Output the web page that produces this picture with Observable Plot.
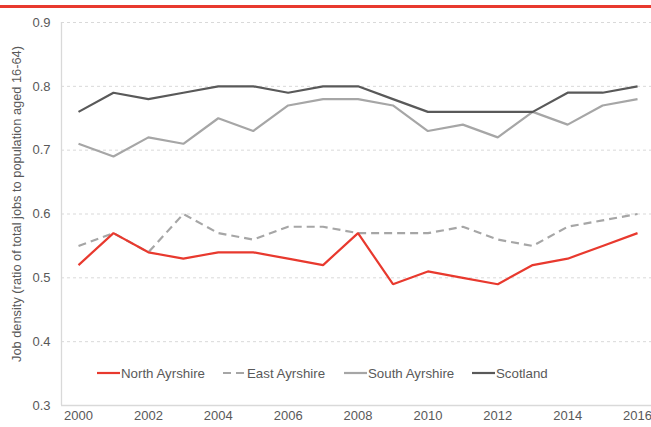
<!DOCTYPE html>
<html><head><meta charset="utf-8">
<script src="https://cdn.jsdelivr.net/npm/d3@7"></script>
<script src="https://cdn.jsdelivr.net/npm/@observablehq/plot@0.6"></script>
<style>
body{margin:0;background:#fff;font-family:"Liberation Sans",Arial,sans-serif;}
#wrap{position:relative;width:651px;height:427px;overflow:hidden;}
#topbar{position:absolute;left:0;top:5px;width:651px;height:2.5px;background:#e8392e;}
#legend{position:absolute;top:365px;left:97px;font-size:13.3px;color:#595959;white-space:nowrap;}
#legend span.item{position:absolute;top:0;display:flex;align-items:center;}
#legend svg{display:block;}
</style></head>
<body><div id="wrap"><div id="topbar"></div><div id="chart"></div><div id="legend"></div></div>
<script>
const years = [2000,2001,2002,2003,2004,2005,2006,2007,2008,2009,2010,2011,2012,2013,2014,2015,2016];
const northAyrshire = [0.52,0.57,0.54,0.53,0.54,0.54,0.53,0.52,0.57,0.49,0.51,0.50,0.49,0.52,0.53,0.55,0.57];
const eastAyrshire  = [0.55,0.57,0.54,0.60,0.57,0.56,0.58,0.58,0.57,0.57,0.57,0.58,0.56,0.55,0.58,0.59,0.60];
const southAyrshire = [0.71,0.69,0.72,0.71,0.75,0.73,0.77,0.78,0.78,0.77,0.73,0.74,0.72,0.76,0.74,0.77,0.78];
const scotland      = [0.76,0.79,0.78,0.79,0.80,0.80,0.79,0.80,0.80,0.78,0.76,0.76,0.76,0.76,0.79,0.79,0.80];
const seriesNames = ["North Ayrshire","East Ayrshire","South Ayrshire","Scotland"];
const xTicks = [2000,2002,2004,2006,2008,2010,2012,2014,2016];
const yTicks = [0.3,0.4,0.5,0.6,0.7,0.8,0.9];
const yTitle = "Job density (ratio of total jobs to population aged 16-64)";

const styles = {
  "North Ayrshire": {stroke:"#e8392e", dash:null},
  "East Ayrshire": {stroke:"#a6a6a6", dash:"8,5"},
  "South Ayrshire": {stroke:"#a6a6a6", dash:null},
  "Scotland": {stroke:"#595959", dash:null}
};
const valuesBy = {"North Ayrshire":northAyrshire,"East Ayrshire":eastAyrshire,"South Ayrshire":southAyrshire,"Scotland":scotland};
const rows = (name) => years.map((y,i)=>({year:y, value:valuesBy[name][i], series:name}));

const drawOrder = ["South Ayrshire","Scotland","East Ayrshire","North Ayrshire"];
const lineMarks = drawOrder.map(name => Plot.line(rows(name), {
  x:"year", y:"value", stroke:styles[name].stroke, strokeWidth:2.2,
  strokeDasharray:styles[name].dash, strokeLinejoin:"miter", strokeLinecap:"butt"
}));

const chart = Plot.plot({
  width:651, height:427,
  marginTop:22, marginBottom:22, marginLeft:61, marginRight:0,
  style:{fontFamily:"Liberation Sans, Arial, sans-serif", fontSize:"13px", color:"#595959", background:"#fff"},
  x:{domain:[1999.513,2016.4], ticks:xTicks, tickFormat:"d", tickSize:0, tickPadding:5, label:null},
  y:{domain:[0.3,0.9], ticks:yTicks, tickFormat:".1f", tickSize:0, tickPadding:11, label:null},
  marks:[
    Plot.ruleY(yTicks.filter(t=>t>0.3), {stroke:"#d9d9d9", strokeDasharray:"3,3", strokeWidth:1}),
    Plot.ruleY([0.3], {stroke:"#d9d9d9", strokeWidth:1.3}),
    Plot.ruleX([1999.513], {stroke:"#d9d9d9", strokeWidth:1.3}),
    ...lineMarks
  ]
});
chart.style.display="block";
document.getElementById("chart").appendChild(chart);

// y-axis title
const svg = d3.select(chart);
svg.append("text")
  .attr("transform","translate(21,204) rotate(-90)")
  .attr("text-anchor","middle")
  .attr("fill","#595959")
  .style("font-size","12.8px")
  .text(yTitle);

// legend
const legendOffsets = [0,126,247,375];
const leg = document.getElementById("legend");
seriesNames.forEach((name,i)=>{
  const item = document.createElement("span");
  item.className="item";
  item.style.left = legendOffsets[i]+"px";
  const s = styles[name];
  item.innerHTML = `<svg width="24" height="16"><line x1="0" x2="23" y1="8" y2="8" stroke="${s.stroke}" stroke-width="2.2" ${s.dash?`stroke-dasharray="8,5"`:""}/></svg><span>${name}</span>`;
  leg.appendChild(item);
});
</script></body></html>
